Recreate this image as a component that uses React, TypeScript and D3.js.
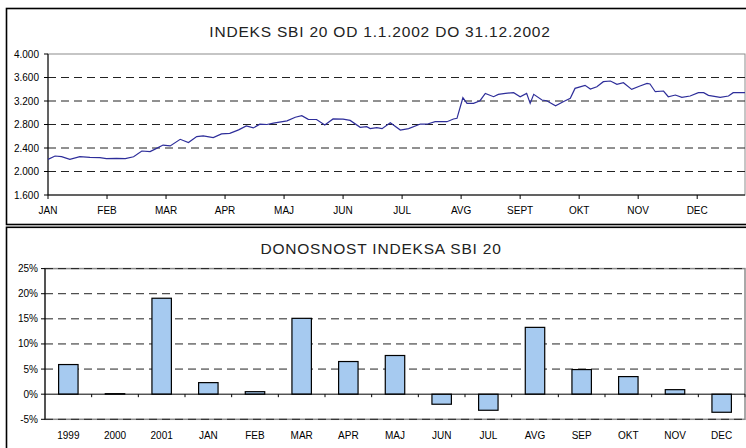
import React from "react";
import * as d3 from "d3";

// ---- Top chart data (position in month units: 0 = JAN tick, value = index level)
const months = ["JAN", "FEB", "MAR", "APR", "MAJ", "JUN", "JUL", "AVG", "SEPT", "OKT", "NOV", "DEC"];
const indexTicks = [1600, 2000, 2400, 2800, 3200, 3600, 4000];
const linePos = [
  0, 0.12, 0.23, 0.37, 0.54, 0.71, 0.88, 0.99, 1.16, 1.31, 1.45, 1.59, 1.73, 1.84, 1.95, 2.07,
  2.24, 2.38, 2.52, 2.63, 2.8, 2.94, 3.08, 3.23, 3.36, 3.48, 3.59, 3.71, 3.82, 4.05, 4.19, 4.3,
  4.41, 4.55, 4.69, 4.83, 5.0, 5.12, 5.29, 5.4, 5.46, 5.57, 5.66, 5.8, 5.97, 6.11, 6.31, 6.42,
  6.56, 6.76, 6.87, 6.93, 7.03, 7.1, 7.21, 7.32, 7.41, 7.55, 7.63, 7.75, 7.89, 8.0, 8.11, 8.17,
  8.23, 8.37, 8.45, 8.6, 8.73, 8.85, 8.93, 9.1, 9.19, 9.3, 9.41, 9.53, 9.64, 9.75, 9.89, 10.03,
  10.15, 10.2, 10.29, 10.43, 10.51, 10.63, 10.74, 10.88, 11.02, 11.11, 11.19, 11.39, 11.53, 11.61, 11.81,
];
const lineVal = [
  2207, 2264, 2253, 2207, 2253, 2241, 2236, 2219, 2225, 2219, 2250, 2349, 2338, 2394, 2450, 2435,
  2548, 2492, 2594, 2605, 2577, 2640, 2650, 2708, 2776, 2742, 2805, 2800, 2822, 2862, 2924, 2950,
  2888, 2885, 2791, 2894, 2890, 2870, 2752, 2762, 2730, 2745, 2730, 2831, 2706, 2730, 2808, 2805,
  2848, 2848, 2894, 2905, 3256, 3160, 3160, 3205, 3330, 3273, 3313, 3330, 3342, 3273, 3330, 3160,
  3313, 3217, 3205, 3120, 3188, 3245, 3415, 3466, 3404, 3443, 3529, 3540, 3484, 3512, 3398, 3455,
  3500, 3490, 3358, 3370, 3273, 3302, 3262, 3285, 3342, 3342, 3296, 3262, 3285, 3342, 3342,
];

// ---- Bottom chart data (returns in %)
const barCats = ["1999", "2000", "2001", "JAN", "FEB", "MAR", "APR", "MAJ", "JUN", "JUL", "AVG", "SEP", "OKT", "NOV", "DEC"];
const barVals = [5.9, 0.1, 19.1, 2.3, 0.5, 15.1, 6.5, 7.7, -2.0, -3.2, 13.3, 4.9, 3.5, 0.9, -3.6];
const pctTicks = [-5, 0, 5, 10, 15, 20, 25];

const FONT = "'Liberation Sans', Arial, sans-serif";
const locale = d3.formatLocale({ decimal: ",", thousands: ".", grouping: [3], currency: ["", ""] });
const fmtIdx = locale.format(",d");

export default function App() {
  // top chart scales
  const x = d3.scaleLinear().domain([0, 11.81]).range([48, 745]);
  const y = d3.scaleLinear().domain([1600, 4000]).range([195, 54]);
  const line = d3
    .line<number>()
    .x((_, i) => x(linePos[i]))
    .y((d) => y(d));

  // bottom chart scales
  const xb = d3.scaleBand<string>().domain(barCats).range([45, 745]).padding(0);
  const yb = d3.scaleLinear().domain([-5, 25]).range([419.3, 268.6]);
  const bw = xb.bandwidth() / 2.4;

  return (
    <svg
      width={746}
      height={448}
      style={{ position: "absolute", left: 0, top: 0, background: "#fff" }}
      fontFamily={FONT}
    >
      {/* panel borders */}
      <rect x={6.5} y={8.5} width={760} height={216} fill="#fff" stroke="#000" strokeWidth={1.6} />
      <rect x={6.5} y={227.3} width={760} height={240} fill="#fff" stroke="#000" strokeWidth={1.6} />

      {/* ---------- TOP CHART ---------- */}
      <text x={380} y={37} textAnchor="middle" fontSize={15.5} letterSpacing={0.8} fill="#222">
        INDEKS SBI 20 OD 1.1.2002 DO 31.12.2002
      </text>
      <rect x={48} y={54} width={697} height={141} fill="none" stroke="#8c8c8c" strokeWidth={1} />
      {indexTicks.slice(1, -1).map((t) => (
        <line key={t} x1={48} x2={745} y1={y(t)} y2={y(t)} stroke="#222" strokeDasharray="8,5" strokeWidth={1} />
      ))}
      <line x1={48} x2={48} y1={54} y2={195} stroke="#000" />
      <line x1={48} x2={745} y1={195} y2={195} stroke="#000" />
      {indexTicks.map((t) => (
        <g key={t}>
          <line x1={44} x2={48} y1={y(t)} y2={y(t)} stroke="#000" />
          <text x={39} y={y(t)} dy="0.35em" textAnchor="end" fontSize={10} fill="#000">
            {fmtIdx(t)}
          </text>
        </g>
      ))}
      {months.map((m, i) => (
        <g key={m}>
          <line x1={x(i)} x2={x(i)} y1={195} y2={199} stroke="#000" />
          <text x={x(i)} y={213.5} textAnchor="middle" fontSize={10} fill="#000">
            {m}
          </text>
        </g>
      ))}
      <path d={line(lineVal) || ""} fill="none" stroke="#2e2e9a" strokeWidth={1.2} />

      {/* ---------- BOTTOM CHART ---------- */}
      <text x={381} y={254} textAnchor="middle" fontSize={15.5} letterSpacing={0.8} fill="#222">
        DONOSNOST INDEKSA SBI 20
      </text>
      <rect x={45} y={yb(25)} width={700} height={yb(-5) - yb(25)} fill="none" stroke="#8c8c8c" strokeWidth={1.5} />
      {pctTicks
        .filter((t) => t !== 0)
        .map((t) => (
          <line key={t} x1={45} x2={745} y1={yb(t)} y2={yb(t)} stroke="#222" strokeDasharray="8,5" strokeWidth={1} />
        ))}
      {barCats.map((c, i) => {
        const v = barVals[i];
        const cx = (xb(c) as number) + xb.bandwidth() / 2;
        return (
          <rect
            key={c}
            x={cx - bw / 2}
            y={yb(Math.max(v, 0))}
            width={bw}
            height={Math.abs(yb(v) - yb(0))}
            fill="#a6caf0"
            stroke="#000"
            strokeWidth={1.2}
          />
        );
      })}
      <line x1={45} x2={45} y1={yb(25)} y2={yb(-5)} stroke="#000" />
      <line x1={45} x2={745} y1={yb(0)} y2={yb(0)} stroke="#000" />
      {pctTicks.map((t) => (
        <g key={t}>
          <line x1={41} x2={45} y1={yb(t)} y2={yb(t)} stroke="#000" />
          <text x={38} y={yb(t)} dy="0.35em" textAnchor="end" fontSize={10} fill="#000">
            {`${t}%`}
          </text>
        </g>
      ))}
      {barCats.map((c, i) => (
        <g key={c}>
          <line x1={(xb(c) as number) + xb.step()} x2={(xb(c) as number) + xb.step()} y1={yb(0)} y2={yb(0) + 3} stroke="#000" />
          <text x={(xb(c) as number) + xb.bandwidth() / 2} y={439} textAnchor="middle" fontSize={10} fill="#000">
            {c}
          </text>
        </g>
      ))}
    </svg>
  );
}
